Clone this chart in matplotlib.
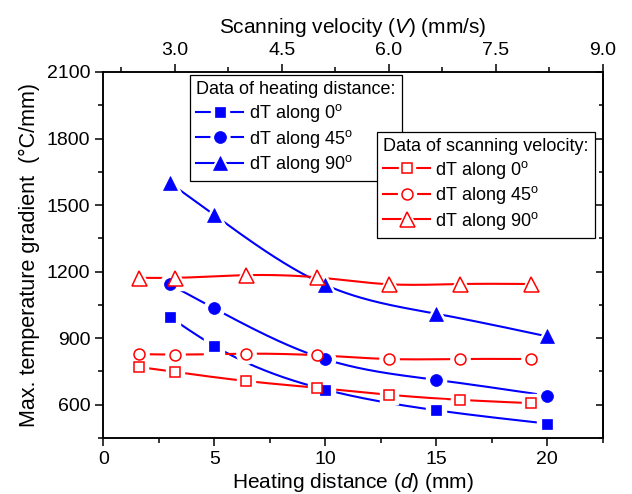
import numpy as np
import matplotlib
matplotlib.use('Agg')
import matplotlib.pyplot as plt
from matplotlib.lines import Line2D
from matplotlib.legend_handler import HandlerTuple
from matplotlib.ticker import MultipleLocator, FormatStrFormatter

plt.rcParams['font.family'] = ['Liberation Sans', 'DejaVu Sans']
plt.rcParams['mathtext.fontset'] = 'custom'
plt.rcParams['mathtext.rm'] = 'Liberation Sans'
plt.rcParams['mathtext.it'] = 'Liberation Sans:italic'

# ---- data: heating distance series (bottom axis) ----
distance = [3, 5, 10, 15, 20]
dist_0 = [995, 865, 668, 575, 515]
dist_45 = [1142, 1034, 805, 712, 641]
dist_90 = [1600, 1455, 1140, 1010, 908]

# ---- data: scanning velocity series (top axis) ----
velocity = [2.5, 3.0, 4.0, 5.0, 6.0, 7.0, 8.0]
vel_0 = [770, 748, 707, 676, 645, 622, 607]
vel_45 = [828, 826, 830, 823, 806, 806, 806]
vel_90 = [1172, 1172, 1184, 1174, 1143, 1144, 1144]

labels = ['dT along 0$^{\\mathrm{o}}$', 'dT along 45$^{\\mathrm{o}}$', 'dT along 90$^{\\mathrm{o}}$']


def spline(x, y, n=200):
    x = np.asarray(x, float)
    y = np.asarray(y, float)
    m = len(x)
    h = np.diff(x)
    A = np.zeros((m, m))
    b = np.zeros(m)
    A[0, 0] = A[-1, -1] = 1
    for i in range(1, m - 1):
        A[i, i - 1] = h[i - 1]
        A[i, i] = 2 * (h[i - 1] + h[i])
        A[i, i + 1] = h[i]
        b[i] = 3 * ((y[i + 1] - y[i]) / h[i] - (y[i] - y[i - 1]) / h[i - 1])
    c = np.linalg.solve(A, b)
    xs = np.linspace(x[0], x[-1], n)
    idx = np.clip(np.searchsorted(x, xs) - 1, 0, m - 2)
    dx = xs - x[idx]
    bc = (y[1:] - y[:-1]) / h - h * (2 * c[:-1] + c[1:]) / 3
    dc = (c[1:] - c[:-1]) / (3 * h)
    ys = y[idx] + bc[idx] * dx + c[idx] * dx ** 2 + dc[idx] * dx ** 3
    return xs, ys


def draw(ax, x, y, color, marker, ms, filled, tr, zmark):
    xs, ys = spline(x, y)
    ax.plot(xs, ys, color=color, lw=1.5, zorder=2, transform=tr)
    ax.plot(x, y, ls='none', marker=marker, ms=ms + 6, mfc='white', mec='white',
            zorder=3, transform=tr)
    ax.plot(x, y, ls='none', marker=marker, ms=ms,
            mfc=color if filled else 'white', mec=color,
            mew=0.5 if filled else 1.1, zorder=zmark, transform=tr)


def handle(color, marker, ms, filled):
    line = Line2D([], [], color=color, lw=1.5)
    halo = Line2D([], [], ls='none', marker=marker, ms=ms + 5, mfc='white', mec='white')
    mk = Line2D([], [], ls='none', marker=marker, ms=ms,
                mfc=color if filled else 'white', mec=color, mew=0.5 if filled else 1.1)
    return (line, halo, mk)


fig = plt.figure(figsize=(6.32, 4.94), dpi=100)
ax = fig.add_axes([0.1635, 0.1134, 0.9536 - 0.1635, 0.8543 - 0.1134])
ax2 = ax.twiny()

ax.set_xlim(0, 22.5)
ax.set_ylim(450, 2100)
ax2.set_xlim(2.0, 9.0)
ax.set_autoscale_on(False)
ax2.set_autoscale_on(False)

blue = '#0000ff'
red = '#ff0000'
bspec = [('s', 7.9), ('o', 8.6), ('^', 10.6)]
rspec = [('s', 7.2), ('o', 7.9), ('^', 10.8)]

for yy, (mk, ms) in zip([dist_0, dist_45, dist_90], bspec):
    draw(ax, distance, yy, blue, mk, ms, True, ax.transData, 4)
# red (velocity) series drawn in ax but through ax2's data scale (top axis)
for yy, (mk, ms) in zip([vel_0, vel_45, vel_90], rspec):
    draw(ax, velocity, yy, red, mk, ms, False, ax2.transData, 4.5)

ax.xaxis.set_major_locator(MultipleLocator(5))
ax.xaxis.set_minor_locator(MultipleLocator(2.5))
ax.yaxis.set_major_locator(MultipleLocator(300))
ax.yaxis.set_minor_locator(MultipleLocator(150))
ax2.xaxis.set_major_locator(MultipleLocator(1.5))
ax2.xaxis.set_minor_locator(MultipleLocator(0.75))
ax2.xaxis.set_major_formatter(FormatStrFormatter('%.1f'))

for a in (ax, ax2):
    for s in a.spines.values():
        s.set_linewidth(1.1)

ax.tick_params(which='both', direction='out', top=False, right=False, width=1.1, labelsize=14)
ax.tick_params(which='major', length=6)
ax.tick_params(which='minor', length=3.5)
ax2.tick_params(which='both', direction='out', width=1.1, labelsize=14)
ax2.tick_params(which='major', length=6)
ax2.tick_params(which='minor', length=3.5)

sec = ax.secondary_yaxis('right')
sec.yaxis.set_major_locator(MultipleLocator(300))
sec.yaxis.set_minor_locator(MultipleLocator(150))
sec.tick_params(which='both', direction='in', labelright=False, width=1.1)
sec.tick_params(which='major', length=5)
sec.tick_params(which='minor', length=3)
sec.spines['right'].set_linewidth(1.1)

ax.set_xlabel('Heating distance ($d$) (mm)', fontsize=15, labelpad=2)
ax.set_ylabel('Max. temperature gradient  (°C/mm)', fontsize=15.5, labelpad=5)
ax2.set_xlabel('Scanning velocity ($V$) (mm/s)', fontsize=15, labelpad=6)

leg1 = ax.legend([handle(blue, m, s, True) for m, s in bspec], labels,
                 title='Data of heating distance:', alignment='left',
                 handler_map={tuple: HandlerTuple(ndivide=1)},
                 loc='upper left', bbox_to_anchor=(0.1736, 0.9918),
                 fontsize=13, title_fontsize=13, fancybox=False, framealpha=1,
                 edgecolor='black', handlelength=2.6, handletextpad=0.3,
                 labelspacing=0.2, borderpad=0.35, borderaxespad=0)
leg1.get_frame().set_linewidth(0.9)
leg1.set_zorder(10)

leg2 = ax2.legend([handle(red, m, s, False) for m, s in rspec], labels,
                  title='Data of scanning velocity:', alignment='left',
                  handler_map={tuple: HandlerTuple(ndivide=1)},
                  loc='upper left', bbox_to_anchor=(0.5475, 0.837),
                  fontsize=13, title_fontsize=13, fancybox=False, framealpha=1,
                  edgecolor='black', handlelength=2.6, handletextpad=0.3,
                  labelspacing=0.2, borderpad=0.35, borderaxespad=0)
leg2.get_frame().set_linewidth(0.9)
leg2.set_zorder(10)

fig.savefig('out.png', dpi=100)
